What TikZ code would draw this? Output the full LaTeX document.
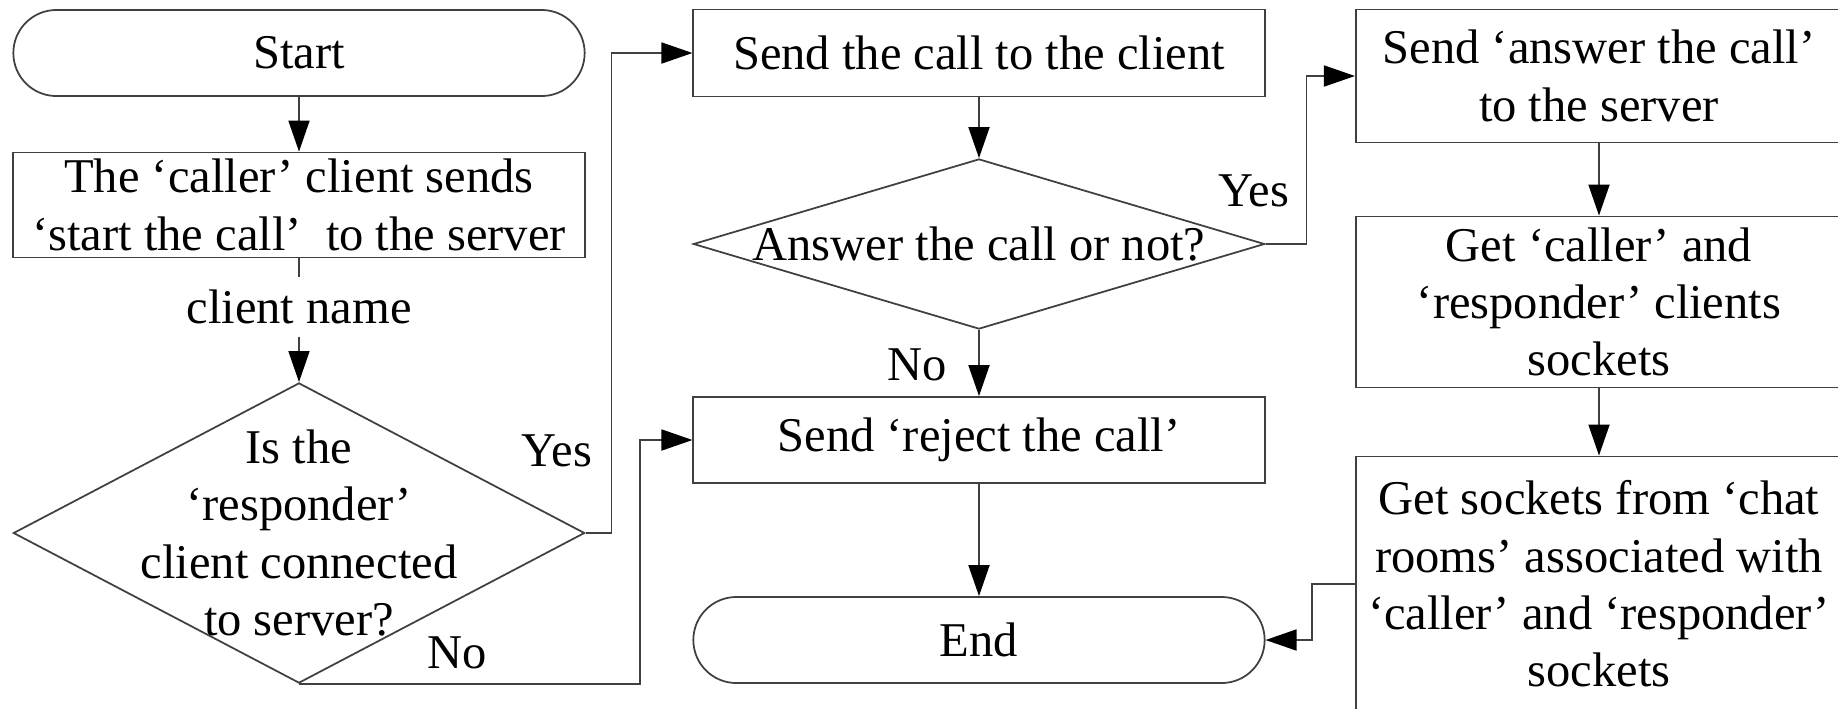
\documentclass[tikz,border=0pt]{standalone}
\usepackage{fontspec}
\setmainfont{Liberation Serif}
\usetikzlibrary{shapes,arrows.meta,positioning}

\tikzset{
	base/.style={draw=black!75, line width=0.5pt, inner sep=0.4mm, align=center, font=\fontsize{13.8}{16.3}\selectfont},
	terminal/.style={base, rectangle, rounded corners=0.43cm, minimum width=5.71cm, minimum height=0.86cm},
	process/.style={base, rectangle, minimum width=5.71cm},
	decision/.style={base, diamond, inner sep=0pt, minimum width=5.71cm},
	tag/.style={font=\fontsize{13.8}{16.3}\selectfont, inner sep=0.4mm, align=center},
	flow/.style={draw=black!75, line width=0.5pt, -{Triangle[length=0.31cm,width=0.21cm,black]}},
	link/.style={draw=black!75, line width=0.5pt}
}

\begin{document}
\begin{tikzpicture}[x=0.01cm,y=-0.01cm]
	\path[use as bounding box, clip] (0,0) rectangle (1838,708);

	% left column
	\node[terminal] (start) at (299,53) {Start};
	\node[process, minimum height=1.05cm] (caller) at (299,205) {The ‘caller’ client sends\\‘start the call’~ to the server};
	\node[tag, inner sep=1.2mm] (cname) at (299,307) {client name};
	\node[decision, minimum height=3cm,
		label={[tag]center:Is the\\‘responder’\\client connected\\to server?}] (check) at (299,533) {};
	\node[tag] (yesA) at (557,451) {Yes};
	\node[tag] (noA) at (457,653) {No};

	% middle column
	\node[process, minimum height=0.87cm] (send) at (979,53) {Send the call to the client};
	\node[decision, minimum height=1.7cm,
		label={[tag]center:Answer the call or not?}] (ask) at (979,244) {};
	\node[tag] (yesB) at (1254,191) {Yes};
	\node[tag] (noB) at (917,365) {No};
	\node[process, minimum height=0.86cm] (reject) at (979,440) {Send ‘reject the call’};
	\node[terminal] (finish) at (979,640) {End};

	% right column
	\node[process, minimum width=4.86cm, minimum height=1.33cm] (answer) at (1599,76) {Send ‘answer the call’\\to the server};
	\node[process, minimum width=4.86cm, minimum height=1.71cm] (getsock) at (1599,302) {Get ‘caller’ and\\‘responder’ clients\\sockets};
	\node[process, minimum width=4.86cm, minimum height=2.55cm] (chat) at (1599,584) {Get sockets from ‘chat\\rooms’ associated with\\‘caller’ and ‘responder’\\sockets};

	\draw[flow] (start) -- (caller);
	\draw[link] (caller) -- (cname);
	\draw[flow] (cname) -- (check);
	\draw[flow] (check.east) -- ++(26,0) |- (send.west);
	\draw[flow] (check.south) -- ++(341,0) |- (reject.west);
	\draw[flow] (send) -- (ask);
	\draw[flow] (ask) -- (reject);
	\draw[flow] (ask.east) -- ++(41,0) |- (answer.west);
	\draw[flow] (reject) -- (finish);
	\draw[flow] (answer) -- (getsock);
	\draw[flow] (getsock) -- (chat);
	\draw[flow] (chat.west) -- ++(-43,0) |- (finish.east);

\end{tikzpicture}
\end{document}
